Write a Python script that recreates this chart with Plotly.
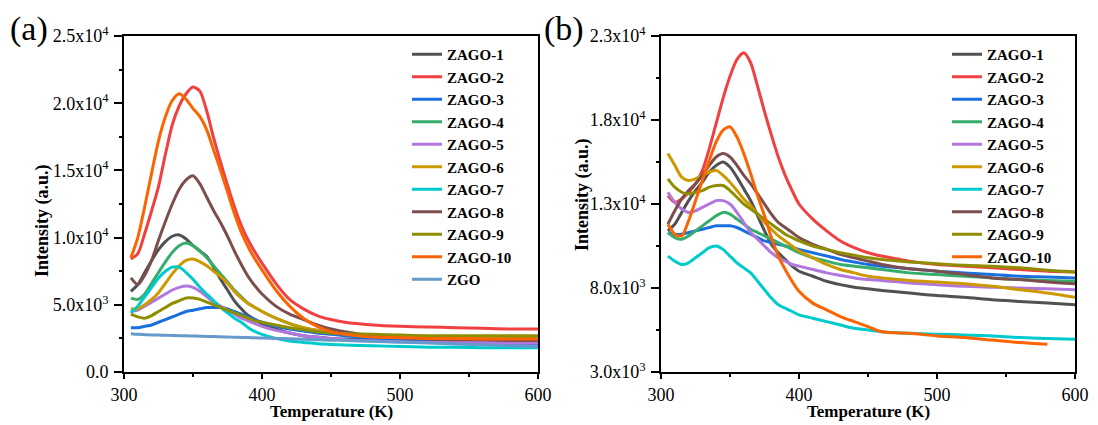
import plotly.graph_objects as go

# ---------------- data ----------------
T = [305, 310, 315, 320, 325, 330, 335, 340, 345, 350, 355, 360, 365, 370, 375, 380,
     385, 390, 395, 400, 410, 420, 430, 440, 450, 460, 480, 500, 520, 540, 560, 580, 600]

names_a = ["ZAGO-1", "ZAGO-2", "ZAGO-3", "ZAGO-4", "ZAGO-5", "ZAGO-6", "ZAGO-7",
           "ZAGO-8", "ZAGO-9", "ZAGO-10", "ZGO"]
names_b = names_a[:10]

colors = {"ZAGO-1": "#515151", "ZAGO-2": "#F14040", "ZAGO-3": "#1A6FDF",
          "ZAGO-4": "#37AD6B", "ZAGO-5": "#B177DE", "ZAGO-6": "#CC9900",
          "ZAGO-7": "#00CBCC", "ZAGO-8": "#7D4E4E", "ZAGO-9": "#8E8E00",
          "ZAGO-10": "#FB6501", "ZGO": "#6699CC"}

# panel (a)
a_zago1 = [6000, 6500, 7400, 8300, 9100, 9700, 10100, 10200, 9900, 9400, 9000, 8600, 7800, 6900, 6100, 5300,
           4700, 4200, 3900, 3600, 3200, 2900, 2700, 2600, 2500, 2450, 2400, 2350, 2300, 2300, 2300, 2250, 2250]
a_zago2 = [8400, 8800, 10300, 12000, 13800, 16200, 18400, 19800, 20700, 21200, 20900, 19400, 17400, 15600, 13900, 12300,
           10900, 9800, 8900, 8100, 6600, 5400, 4700, 4200, 3900, 3700, 3500, 3400, 3350, 3300, 3250, 3200, 3200]
a_zago3 = [3300, 3300, 3400, 3500, 3700, 3900, 4100, 4300, 4500, 4600, 4700, 4800, 4800, 4800, 4700, 4500,
           4300, 4100, 3900, 3700, 3400, 3200, 3050, 2900, 2800, 2700, 2500, 2350, 2250, 2150, 2100, 2050, 2000]
a_zago4 = [5500, 5400, 5800, 6600, 7400, 8200, 8900, 9400, 9600, 9400, 9000, 8500, 7900, 7300, 6700, 6100,
           5600, 5100, 4800, 4500, 4000, 3600, 3300, 3100, 2950, 2850, 2700, 2600, 2550, 2500, 2500, 2500, 2500]
a_zago5 = [4500, 4600, 4900, 5200, 5500, 5800, 6100, 6300, 6400, 6300, 6000, 5600, 5200, 4900, 4600, 4300,
           4000, 3800, 3600, 3400, 3100, 2900, 2700, 2600, 2500, 2400, 2300, 2250, 2200, 2200, 2200, 2150, 2150]
a_zago6 = [4700, 4700, 5000, 5400, 5900, 6600, 7300, 7900, 8300, 8400, 8200, 7900, 7500, 7100, 6600, 6000,
           5500, 5100, 4800, 4500, 4000, 3600, 3300, 3100, 2950, 2850, 2700, 2600, 2550, 2500, 2500, 2450, 2450]
a_zago7 = [4400, 4900, 5600, 6300, 7000, 7500, 7800, 7800, 7400, 6900, 6300, 5800, 5300, 4800, 4400, 4000,
           3700, 3300, 3000, 2800, 2500, 2300, 2200, 2100, 2050, 2000, 1950, 1900, 1850, 1850, 1800, 1800, 1800]
a_zago8 = [7000, 6500, 7200, 8300, 9800, 11200, 12500, 13600, 14300, 14600, 14000, 13000, 12000, 11100, 10100, 9000,
           8000, 7100, 6400, 5800, 4900, 4300, 3900, 3500, 3200, 3000, 2700, 2550, 2450, 2400, 2400, 2350, 2350]
a_zago9 = [4300, 4100, 4000, 4200, 4500, 4800, 5100, 5300, 5500, 5500, 5400, 5200, 5000, 4800, 4600, 4400,
           4200, 4000, 3800, 3700, 3500, 3300, 3150, 3000, 2900, 2850, 2800, 2750, 2700, 2700, 2700, 2700, 2700]
a_zago10 = [8500, 10000, 12300, 14800, 17200, 19000, 20200, 20700, 20300, 19600, 19000, 18000, 16500, 15000, 13400, 11800,
            10400, 9300, 8400, 7600, 6100, 4900, 4000, 3400, 3000, 2800, 2600, 2550, 2500, 2500, 2450, 2450, 2450]
a_zgo = [2850, 2800, 2780, 2760, 2750, 2730, 2720, 2700, 2690, 2680, 2660, 2650, 2640, 2620, 2600, 2590,
         2570, 2560, 2540, 2530, 2500, 2470, 2440, 2400, 2370, 2340, 2280, 2220, 2150, 2080, 2020, 1960, 1900]

# panel (b)
b_zago1 = [11400, 11800, 12500, 13200, 13800, 14300, 14900, 15300, 15500, 15200, 14600, 13900, 13200, 12300, 11400, 10600,
           10100, 9700, 9300, 9000, 8700, 8400, 8200, 8050, 7950, 7850, 7700, 7550, 7450, 7300, 7200, 7100, 7000]
b_zago2 = [13500, 13100, 13300, 13700, 14200, 15000, 16300, 17800, 19300, 20600, 21600, 22000, 21400, 20000, 18500, 17100,
           15800, 14700, 13800, 13000, 12100, 11400, 10800, 10400, 10100, 9900, 9600, 9400, 9300, 9200, 9100, 9000, 8950]
b_zago3 = [11300, 11200, 11200, 11300, 11400, 11500, 11600, 11700, 11700, 11700, 11600, 11400, 11200, 11000, 10800, 10700,
           10600, 10500, 10400, 10300, 10100, 9900, 9700, 9550, 9400, 9300, 9150, 9000, 8900, 8800, 8700, 8650, 8600]
b_zago4 = [11300, 11000, 10900, 11100, 11400, 11700, 12000, 12300, 12500, 12400, 12100, 11800, 11500, 11300, 11100, 10900,
           10700, 10500, 10300, 10100, 9800, 9600, 9400, 9300, 9200, 9100, 8900, 8800, 8700, 8600, 8500, 8450, 8400]
b_zago5 = [13700, 13100, 12700, 12500, 12600, 12800, 13000, 13200, 13200, 13000, 12500, 11900, 11300, 10900, 10500, 10100,
           9800, 9600, 9400, 9300, 9100, 8900, 8750, 8600, 8500, 8450, 8300, 8200, 8100, 8050, 8000, 7950, 7900]
b_zago6 = [16000, 15300, 14600, 14400, 14500, 14700, 14900, 15000, 14700, 14300, 13800, 13300, 12900, 12400, 11900, 11500,
           11100, 10800, 10500, 10200, 9800, 9400, 9100, 8900, 8700, 8600, 8450, 8350, 8250, 8100, 7900, 7700, 7450]
b_zago7 = [9900, 9600, 9400, 9500, 9800, 10100, 10400, 10500, 10300, 9900, 9500, 9200, 8900, 8400, 7900, 7400,
           7000, 6800, 6600, 6400, 6200, 6000, 5800, 5600, 5500, 5400, 5300, 5250, 5200, 5150, 5050, 5000, 4950]
b_zago8 = [11800, 12600, 13300, 13800, 14200, 14700, 15300, 15800, 16000, 15800, 15300, 14700, 14200, 13600, 13000, 12400,
           11900, 11600, 11300, 11000, 10600, 10300, 10000, 9800, 9600, 9400, 9150, 9000, 8800, 8600, 8500, 8350, 8250]
b_zago9 = [14500, 14000, 13700, 13600, 13700, 13800, 14000, 14100, 14100, 13800, 13400, 13000, 12700, 12400, 12100, 11800,
           11500, 11200, 11000, 10800, 10500, 10300, 10100, 9950, 9800, 9700, 9550, 9450, 9350, 9300, 9200, 9050, 8950]
b_zago10 = [11800, 11200, 11100, 12000, 13200, 14400, 15600, 16700, 17400, 17600, 17000, 16000, 14800, 13500, 12300, 11000,
            9900, 9100, 8400, 7800, 7100, 6700, 6300, 6000, 5700, 5400, 5300, 5150, 5050, 4900, 4750, 4650, None]

series_a = [a_zago1, a_zago2, a_zago3, a_zago4, a_zago5, a_zago6, a_zago7, a_zago8, a_zago9, a_zago10, a_zgo]
series_b = [b_zago1, b_zago2, b_zago3, b_zago4, b_zago5, b_zago6, b_zago7, b_zago8, b_zago9, b_zago10]

x_ticks = [300, 400, 500, 600]
ya_ticks = [0, 5000, 10000, 15000, 20000, 25000]
ya_text = ["0.0", "5.0x10<sup>3</sup>", "1.0x10<sup>4</sup>", "1.5x10<sup>4</sup>",
           "2.0x10<sup>4</sup>", "2.5x10<sup>4</sup>"]
yb_ticks = [3000, 8000, 13000, 18000, 23000]
yb_text = ["3.0x10<sup>3</sup>", "8.0x10<sup>3</sup>", "1.3x10<sup>4</sup>",
           "1.8x10<sup>4</sup>", "2.3x10<sup>4</sup>"]

# ---------------- figure ----------------
SERIF = "Liberation Serif"
fig = go.Figure()

for name, ys in zip(names_a, series_a):
    fig.add_trace(go.Scatter(x=T, y=ys, name=name, mode="lines",
                             line=dict(color=colors[name], width=3, shape="spline", smoothing=0.7),
                             xaxis="x", yaxis="y", legend="legend"))
for name, ys in zip(names_b, series_b):
    fig.add_trace(go.Scatter(x=T, y=ys, name=name, mode="lines",
                             line=dict(color=colors[name], width=3, shape="spline", smoothing=0.7),
                             xaxis="x2", yaxis="y2", legend="legend2"))

W, H = 1098, 425
xa_dom = [124 / W, 538 / W]
xb_dom = [661 / W, 1075 / W]
y_dom = [1 - 372 / H, 1 - 36 / H]

common_x = dict(range=[300, 600], tickvals=x_ticks, showline=True, linecolor="black", linewidth=1.8,
                mirror=True, ticks="outside", ticklen=5, tickwidth=1.8, tickcolor="black",
                showgrid=False, zeroline=False, automargin=False,
                tickfont=dict(family=SERIF, size=18, color="black"),
                minor=dict(ticks="outside", ticklen=3, tickwidth=1.5, tickcolor="black", dtick=50, tick0=300,
                           showgrid=False))
common_y = dict(showline=True, linecolor="black", linewidth=1.8, mirror=True, ticks="outside", ticklen=8,
                tickwidth=1.8, tickcolor="black", showgrid=False, zeroline=False, automargin=False,
                tickfont=dict(family=SERIF, size=18, color="black"), ticklabelstandoff=2)

leg_font = dict(family=SERIF, size=15, color="black", weight="bold")
fig.update_layout(
    width=W, height=H, margin=dict(l=0, r=0, t=0, b=0, autoexpand=False),
    paper_bgcolor="white", plot_bgcolor="white",
    xaxis=dict(domain=xa_dom, anchor="y", **common_x),
    yaxis=dict(domain=y_dom, anchor="x", range=[0, 25000], tickvals=ya_ticks, ticktext=ya_text,
               minor=dict(ticks="outside", ticklen=3, tickwidth=1.5, tickcolor="black", dtick=2500, tick0=0,
                          showgrid=False),
               **common_y),
    xaxis2=dict(domain=xb_dom, anchor="y2", **common_x),
    yaxis2=dict(domain=y_dom, anchor="x2", range=[3000, 23000], tickvals=yb_ticks, ticktext=yb_text,
                minor=dict(ticks="outside", ticklen=3, tickwidth=1.5, tickcolor="black", dtick=2500, tick0=3000,
                           showgrid=False),
                **common_y),
    legend=dict(x=407 / W, y=1 - 38 / H, xanchor="left", yanchor="top", bgcolor="rgba(0,0,0,0)",
                font=leg_font, tracegroupgap=0, itemwidth=30),
    legend2=dict(x=947 / W, y=1 - 38 / H, xanchor="left", yanchor="top", bgcolor="rgba(0,0,0,0)",
                 font=leg_font, tracegroupgap=0, itemwidth=30),
    showlegend=True,
)

title_font = dict(family=SERIF, size=17, color="black", weight="bold")
ytitle_font = dict(family=SERIF, size=18, color="black", weight="bold")
label_font = dict(family=SERIF, size=34, color="black")

# axis titles and panel labels, positioned relative to each panel's axes
fig.add_annotation(text="Temperature (K)", x=0.502, y=-0.118, xref="x domain", yref="y domain",
                   showarrow=False, font=title_font, xanchor="center", yanchor="middle")
fig.add_annotation(text="Temperature (K)", x=0.5, y=-0.118, xref="x2 domain", yref="y2 domain",
                   showarrow=False, font=title_font, xanchor="center", yanchor="middle")
fig.add_annotation(text="Intensity (a.u.)", x=-0.195, y=0.45, xref="x domain", yref="y domain",
                   showarrow=False, font=ytitle_font, textangle=-90, xanchor="center", yanchor="middle")
fig.add_annotation(text="Intensity (a.u.)", x=-0.188, y=0.527, xref="x2 domain", yref="y2 domain",
                   showarrow=False, font=ytitle_font, textangle=-90, xanchor="center", yanchor="middle")
fig.add_annotation(text="(a)", x=-0.229, y=1.02, xref="x domain", yref="y domain", showarrow=False,
                   font=label_font, xanchor="center", yanchor="middle")
fig.add_annotation(text="(b)", x=-0.234, y=1.02, xref="x2 domain", yref="y2 domain", showarrow=False,
                   font=label_font, xanchor="center", yanchor="middle")

fig.write_html("out.html")
